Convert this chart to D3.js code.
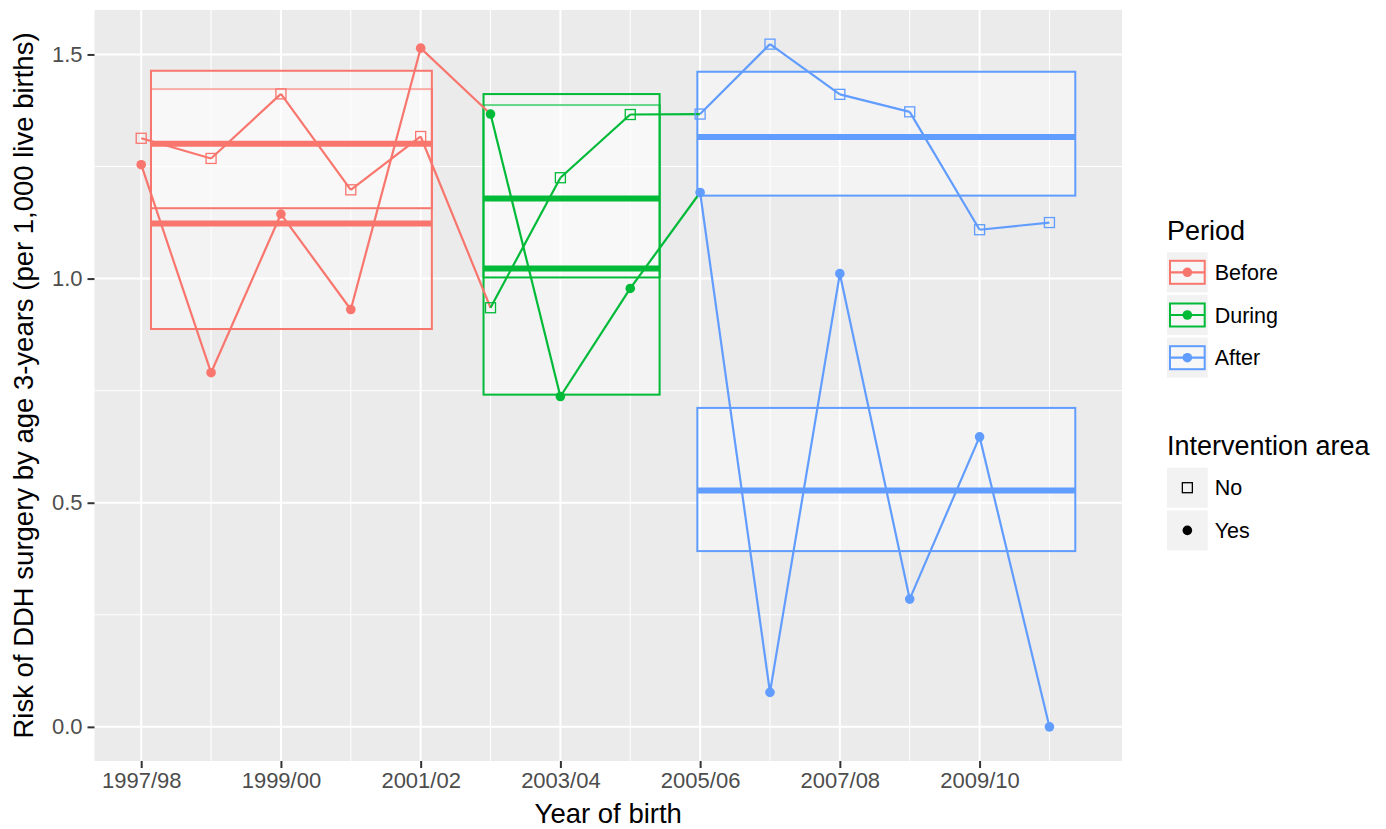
<!DOCTYPE html>
<html>
<head>
<meta charset="utf-8">
<script src="https://cdn.jsdelivr.net/npm/d3@7"></script>
<style>
  body { margin: 0; background: #fff; }
  text { font-family: "Liberation Sans", Arial, sans-serif; }
</style>
</head>
<body>
<div id="my_dataviz"></div>
<script>
// data
var years = ["1997/98","1998/99","1999/00","2000/01","2001/02","2002/03","2003/04",
             "2004/05","2005/06","2006/07","2007/08","2008/09","2009/10","2010/11"];
var periodOf = ["Before","Before","Before","Before","Before","During","During",
                "During","After","After","After","After","After","After"];
var riskNo  = [1.313, 1.268, 1.412, 1.198, 1.317, 0.935, 1.225, 1.366, 1.367, 1.523, 1.411, 1.372, 1.109, 1.125];
var riskYes = [1.254, 0.790, 1.144, 0.931, 1.514, 1.367, 0.737, 0.978, 1.192, 0.077, 1.011, 0.285, 0.647, 0.000];

var periods = ["Before", "During", "After"];
var areas = ["No", "Yes"];
var periodColors = ["#F8766D", "#00BA38", "#619CFF"];

// period summary boxes: x extent in year index, CI and mean per area
var boxPeriod = ["Before", "Before", "During", "During", "After", "After"];
var boxArea   = ["Yes", "No", "Yes", "No", "Yes", "No"];
var boxXmin   = [0.14, 0.14, 4.90, 4.90, 7.96, 7.96];
var boxXmax   = [4.16, 4.16, 7.42, 7.42, 13.37, 13.37];
var boxLow    = [0.8875, 1.157, 0.7411, 1.0025, 0.3921, 1.1851];
var boxHigh   = [1.4227, 1.4636, 1.3871, 1.4116, 0.7115, 1.4614];
var boxMean   = [1.1227, 1.301, 1.0225, 1.1785, 0.5273, 1.3159];

var xTicks = [0, 2, 4, 6, 8, 10, 12];
var xMinor = [1, 3, 5, 7, 9, 11, 13];
var yTicks = [0, 0.5, 1.0, 1.5];
var yMinor = [0.25, 0.75, 1.25];

// set the dimensions and margins of the graph
var W = 1386, H = 829;
var margin = {top: 10, right: 264, bottom: 68, left: 94.5},
    width = W - margin.left - margin.right,
    height = H - margin.top - margin.bottom;

var svg = d3.select("#my_dataviz")
  .append("svg")
    .attr("width", W)
    .attr("height", H);

var g = svg.append("g")
    .attr("transform", "translate(" + margin.left + "," + margin.top + ")");

var color = d3.scaleOrdinal().domain(periods).range(periodColors);

// ggplot-like 5% expansion
var xExt = [0, d3.max(boxXmax)];
var xPad = (xExt[1] - xExt[0]) * 0.05;
var x = d3.scaleLinear()
  .domain([xExt[0] - xPad, xExt[1] + xPad])
  .range([0, width]);

var yExt = [0, d3.max(riskNo.concat(riskYes))];
var yPad = (yExt[1] - yExt[0]) * 0.05;
var y = d3.scaleLinear()
  .domain([yExt[0] - yPad, yExt[1] + yPad])
  .range([height, 0]);

// panel
g.append("rect")
  .attr("width", width).attr("height", height)
  .attr("fill", "#EBEBEB");

// grid
g.selectAll(".ymin").data(yMinor).enter().append("line")
  .attr("x1", 0).attr("x2", width)
  .attr("y1", d => y(d)).attr("y2", d => y(d))
  .attr("stroke", "#fff").attr("stroke-width", 1);
g.selectAll(".xmin").data(xMinor).enter().append("line")
  .attr("y1", 0).attr("y2", height)
  .attr("x1", d => x(d)).attr("x2", d => x(d))
  .attr("stroke", "#fff").attr("stroke-width", 1);
g.selectAll(".ymaj").data(yTicks).enter().append("line")
  .attr("x1", 0).attr("x2", width)
  .attr("y1", d => y(d)).attr("y2", d => y(d))
  .attr("stroke", "#fff").attr("stroke-width", 2);
g.selectAll(".xmaj").data(xTicks).enter().append("line")
  .attr("y1", 0).attr("y2", height)
  .attr("x1", d => x(d)).attr("x2", d => x(d))
  .attr("stroke", "#fff").attr("stroke-width", 2);

// axes
var xAxis = g.append("g")
  .attr("transform", "translate(0," + height + ")")
  .call(d3.axisBottom(x).tickValues(xTicks).tickFormat(d => years[d]).tickSize(7).tickPadding(4));
var yAxis = g.append("g")
  .call(d3.axisLeft(y).tickValues(yTicks).tickFormat(d3.format(".1f")).tickSize(7).tickPadding(5));
[xAxis, yAxis].forEach(function(a) {
  a.select(".domain").remove();
  a.selectAll(".tick line").attr("stroke", "#333333").attr("stroke-width", 2);
  a.selectAll(".tick text")
    .attr("fill", "#4D4D4D")
    .style("font-size", "22px")
    .style("font-family", "'Liberation Sans', Arial, sans-serif");
});

// boxes
var boxes = boxPeriod.map(function(p, i) {
  return {period: p, area: boxArea[i], x0: boxXmin[i], x1: boxXmax[i],
          lo: boxLow[i], hi: boxHigh[i], mean: boxMean[i]};
});
g.selectAll(".box").data(boxes).enter().append("rect")
  .attr("x", d => x(d.x0))
  .attr("width", d => x(d.x1) - x(d.x0))
  .attr("y", d => y(d.hi))
  .attr("height", d => y(d.lo) - y(d.hi))
  .attr("fill", "#fff").attr("fill-opacity", 0.4)
  .attr("stroke", d => color(d.period)).attr("stroke-width", 2);

g.selectAll(".mean").data(boxes).enter().append("line")
  .attr("x1", d => x(d.x0)).attr("x2", d => x(d.x1))
  .attr("y1", d => y(d.mean)).attr("y2", d => y(d.mean))
  .attr("stroke", d => color(d.period)).attr("stroke-width", 6);

// lines: each segment takes the period colour of its starting point
var line = d3.line().x(d => x(d[0])).y(d => y(d[1]));
[riskNo, riskYes].forEach(function(vals) {
  var segs = d3.range(vals.length - 1).map(i => ({
    period: periodOf[i],
    pts: [[i, vals[i]], [i + 1, vals[i + 1]]]
  }));
  g.append("g").selectAll("path").data(segs).enter().append("path")
    .attr("d", d => line(d.pts))
    .attr("fill", "none")
    .attr("stroke", d => color(d.period))
    .attr("stroke-width", 2.2);
});

// points
g.append("g").selectAll("rect").data(riskNo).enter().append("rect")
  .attr("x", (d, i) => x(i) - 5).attr("y", d => y(d) - 5)
  .attr("width", 10).attr("height", 10)
  .attr("fill", "none")
  .attr("stroke", (d, i) => color(periodOf[i]))
  .attr("stroke-width", 1.3);
g.append("g").selectAll("circle").data(riskYes).enter().append("circle")
  .attr("cx", (d, i) => x(i)).attr("cy", d => y(d))
  .attr("r", 4.8)
  .attr("fill", (d, i) => color(periodOf[i]));

// axis titles
svg.append("text")
  .attr("x", margin.left + width / 2).attr("y", 823)
  .attr("text-anchor", "middle")
  .style("font-size", "27.5px")
  .text("Year of birth");
svg.append("text")
  .attr("transform", "translate(33," + (margin.top + height / 2) + ") rotate(-90)")
  .attr("text-anchor", "middle")
  .style("font-size", "27.5px")
  .text("Risk of DDH surgery by age 3-years (per 1,000 live births)");

// legend: Period
var lx = 1167, keyW = 40.7, keyH = 40;
svg.append("text").attr("x", lx).attr("y", 240)
  .style("font-size", "27px").text("Period");
var pKeys = svg.append("g").selectAll("g").data(periods).enter().append("g")
  .attr("transform", (d, i) => "translate(" + lx + "," + (252.3 + i * 42.7) + ")");
pKeys.append("rect").attr("width", keyW).attr("height", keyH).attr("fill", "#F2F2F2");
pKeys.append("rect")
  .attr("x", 3).attr("y", 8.5).attr("width", keyW - 6).attr("height", 23)
  .attr("fill", "#fff").attr("fill-opacity", 0.4)
  .attr("stroke", d => color(d)).attr("stroke-width", 2);
pKeys.append("line")
  .attr("x1", 3).attr("x2", keyW - 3).attr("y1", keyH / 2).attr("y2", keyH / 2)
  .attr("stroke", d => color(d)).attr("stroke-width", 2.2);
pKeys.append("circle")
  .attr("cx", keyW / 2).attr("cy", keyH / 2).attr("r", 4.8)
  .attr("fill", d => color(d));
pKeys.append("text")
  .attr("x", 47.7).attr("y", keyH / 2 + 7.5)
  .style("font-size", "21.5px")
  .text(d => d);

// legend: Intervention area
svg.append("text").attr("x", lx).attr("y", 455)
  .style("font-size", "27px").text("Intervention area");
var aKeys = svg.append("g").selectAll("g").data(areas).enter().append("g")
  .attr("transform", (d, i) => "translate(" + lx + "," + (467.7 + i * 42.7) + ")");
aKeys.append("rect").attr("width", keyW).attr("height", keyH).attr("fill", "#F2F2F2");
aKeys.filter(d => d === "No").append("rect")
  .attr("x", keyW / 2 - 5).attr("y", keyH / 2 - 5).attr("width", 10).attr("height", 10)
  .attr("fill", "none").attr("stroke", "#000").attr("stroke-width", 1.3);
aKeys.filter(d => d === "Yes").append("circle")
  .attr("cx", keyW / 2).attr("cy", keyH / 2).attr("r", 4.8).attr("fill", "#000");
aKeys.append("text")
  .attr("x", 47.7).attr("y", keyH / 2 + 7.5)
  .style("font-size", "21.5px")
  .text(d => d);
</script>
</body>
</html>
